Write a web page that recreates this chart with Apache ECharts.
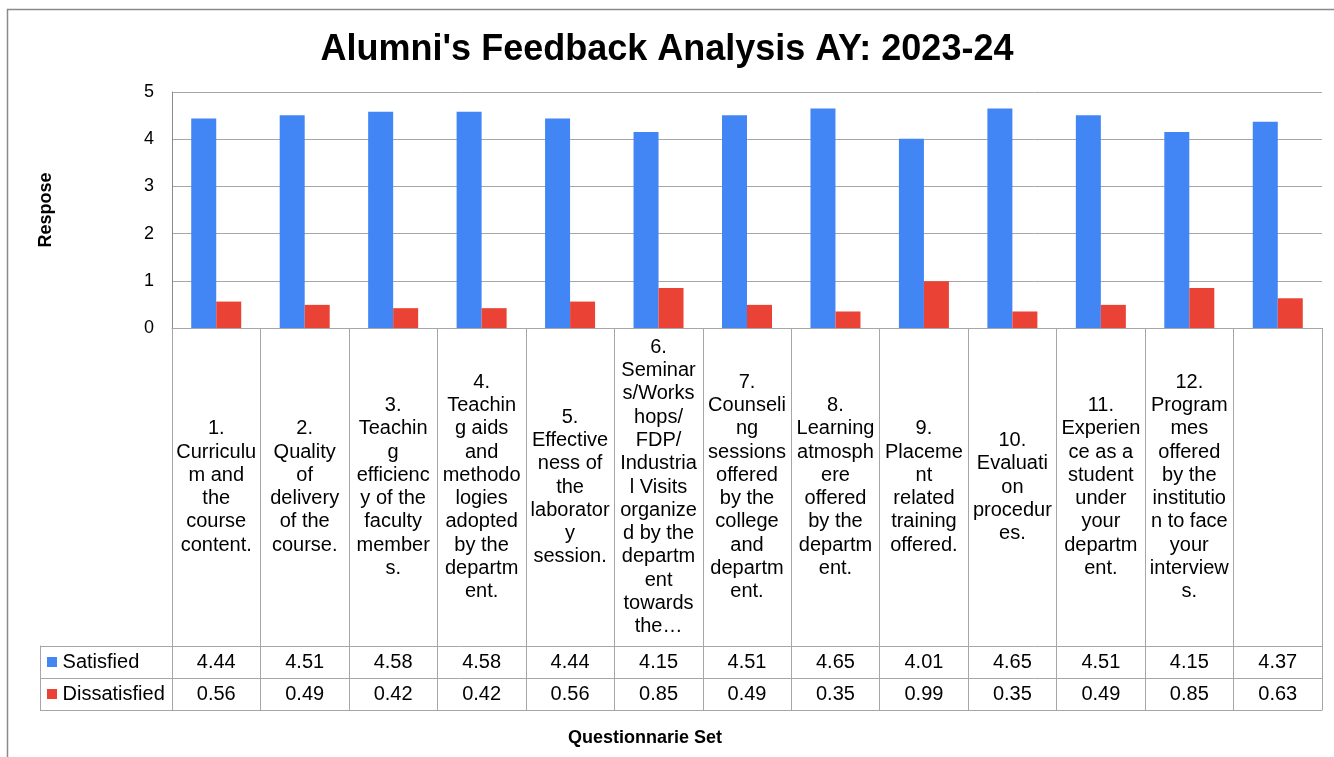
<!DOCTYPE html>
<html>
<head>
<meta charset="utf-8">
<title>Alumni's Feedback Analysis</title>
<script src="https://cdn.jsdelivr.net/npm/echarts@6/dist/echarts.min.js"></script>
<style>
  html, body { margin: 0; padding: 0; background: #fff; }
  #chart { width: 1334px; height: 757px; }
</style>
</head>
<body>
<div id="chart"></div>
<script>
// question labels, split the way the original table wraps them
var questions = [
  ['1.', 'Curriculu', 'm and', 'the', 'course', 'content.'],
  ['2.', 'Quality', 'of', 'delivery', 'of the', 'course.'],
  ['3.', 'Teachin', 'g', 'efficienc', 'y of the', 'faculty', 'member', 's.'],
  ['4.', 'Teachin', 'g aids', 'and', 'methodo', 'logies', 'adopted', 'by the', 'departm', 'ent.'],
  ['5.', 'Effective', 'ness of', 'the', 'laborator', 'y', 'session.'],
  ['6.', 'Seminar', 's/Works', 'hops/', 'FDP/', 'Industria', 'l Visits', 'organize', 'd by the', 'departm', 'ent', 'towards', 'the\u2026'],
  ['7.', 'Counseli', 'ng', 'sessions', 'offered', 'by the', 'college', 'and', 'departm', 'ent.'],
  ['8.', 'Learning', 'atmosph', 'ere', 'offered', 'by the', 'departm', 'ent.'],
  ['9.', 'Placeme', 'nt', 'related', 'training', 'offered.'],
  ['10.', 'Evaluati', 'on', 'procedur', 'es.'],
  ['11.', 'Experien', 'ce as a', 'student', 'under', 'your', 'departm', 'ent.'],
  ['12.', 'Program', 'mes', 'offered', 'by the', 'institutio', 'n to face', 'your', 'interview', 's.'],
  ['']
]
var categories = questions.map(function (lines) { return lines.join('\n') })

var satisfied = [4.44, 4.51, 4.58, 4.58, 4.44, 4.15, 4.51, 4.65, 4.01, 4.65, 4.51, 4.15, 4.37]
var dissatisfied = [0.56, 0.49, 0.42, 0.42, 0.56, 0.85, 0.49, 0.35, 0.99, 0.35, 0.49, 0.85, 0.63]
var rowNames = ['Satisfied', 'Dissatisfied']
var rowValues = [satisfied, dissatisfied]

var BLUE = '#4285f4'
var RED = '#ea4335'
var LINE = '#a6a6a6'
var FONT = '"Liberation Sans", Arial, sans-serif'

var labelData = categories.map(function (c, i) { return [i] })
var cellData = []
rowValues.forEach(function (vals, r) {
  vals.forEach(function (v, i) { cellData.push([i, r, v]) })
})

var chart = echarts.init(document.getElementById('chart'), null, { renderer: 'canvas' })

chart.setOption({
  backgroundColor: '#fff',
  animation: false,
  textStyle: { fontFamily: FONT, color: '#000' },
  title: {
    text: "Alumni's Feedback Analysis AY: 2023-24",
    left: 'center',
    top: 27,
    textStyle: { fontFamily: FONT, fontSize: 36, fontWeight: 'bold', color: '#000' }
  },
  graphic: [
    { type: 'rect', z: -1, shape: { x: 7.5, y: 9.5, width: 1400, height: 800 }, style: { fill: 'none', stroke: '#8a8a8a', lineWidth: 1.5 } },
    { type: 'text', x: 645, y: 738, style: { text: 'Questionnarie Set', align: 'center', verticalAlign: 'middle', font: 'bold 18px ' + FONT, fill: '#000' } }
  ],
  grid: [
    { left: 172, right: 12, top: 92, height: 236 },   // bars
    { left: 172, right: 12, top: 328, height: 318 },  // question labels
    { left: 172, right: 12, top: 646, height: 64 }    // data table
  ],
  xAxis: [
    {
      type: 'category', gridIndex: 0, data: categories,
      axisLine: { lineStyle: { color: LINE } },
      axisTick: { show: false }, axisLabel: { show: false }
    },
    {
      type: 'category', gridIndex: 1, data: categories,
      axisLine: { show: false }, axisTick: { show: false }, axisLabel: { show: false },
      splitLine: { show: true, lineStyle: { color: LINE } }
    },
    {
      type: 'category', gridIndex: 2, data: categories,
      axisLine: { lineStyle: { color: LINE } },
      axisTick: { show: false }, axisLabel: { show: false },
      splitLine: { show: true, lineStyle: { color: LINE } }
    }
  ],
  yAxis: [
    {
      type: 'value', gridIndex: 0, min: 0, max: 5, interval: 1,
      name: 'Respose', nameLocation: 'middle', nameGap: 117,
      nameTextStyle: { fontFamily: FONT, fontSize: 18, fontWeight: 'bold', color: '#000' },
      axisLine: { show: true, lineStyle: { color: '#8a8a8a' } },
      axisTick: { show: false },
      axisLabel: { fontSize: 18, color: '#000', margin: 18 },
      splitLine: { lineStyle: { color: LINE } }
    },
    {
      type: 'value', gridIndex: 1, min: 0, max: 1, show: false
    },
    {
      type: 'category', gridIndex: 2, data: rowNames, inverse: true,
      axisLine: { show: true, lineStyle: { color: LINE } },
      axisTick: { show: true, length: 132, lineStyle: { color: LINE } },
      splitLine: { show: true, lineStyle: { color: LINE } },
      axisLabel: {
        margin: 125, align: 'left', fontSize: 20, color: '#000',
        formatter: function (v, i) { return (i === 0 ? '{s|}' : '{d|}') + ' ' + v },
        rich: {
          s: { width: 10, height: 10, backgroundColor: BLUE },
          d: { width: 10, height: 10, backgroundColor: RED }
        }
      }
    },
    {
      type: 'category', gridIndex: 2, data: rowNames, inverse: true,
      position: 'left', offset: 132,
      axisLine: { show: true, lineStyle: { color: LINE } },
      axisTick: { show: false }, axisLabel: { show: false }
    }
  ],
  series: [
    {
      name: 'Satisfied', type: 'bar', xAxisIndex: 0, yAxisIndex: 0,
      data: satisfied, barWidth: 25, barGap: '0%', itemStyle: { color: BLUE }
    },
    {
      name: 'Dissatisfied', type: 'bar', xAxisIndex: 0, yAxisIndex: 0,
      data: dissatisfied, barWidth: 25, barGap: '0%', itemStyle: { color: RED }
    },
    {
      type: 'custom', xAxisIndex: 1, yAxisIndex: 1, data: labelData, silent: true,
      renderItem: function (params, api) {
        var p = api.coord([api.value(0), 0.5])
        return {
          type: 'text', x: p[0], y: p[1],
          style: {
            text: categories[api.value(0)], align: 'center', verticalAlign: 'middle',
            fontFamily: FONT, fontSize: 20, lineHeight: 23.3, fill: '#000'
          }
        }
      }
    },
    {
      type: 'custom', xAxisIndex: 2, yAxisIndex: 2, data: cellData, silent: true,
      renderItem: function (params, api) {
        var p = api.coord([api.value(0), api.value(1)])
        return {
          type: 'text', x: p[0], y: p[1],
          style: {
            text: api.value(2).toFixed(2), align: 'center', verticalAlign: 'middle',
            fontFamily: FONT, fontSize: 20, fill: '#000'
          }
        }
      }
    }
  ]
})
</script>
</body>
</html>
